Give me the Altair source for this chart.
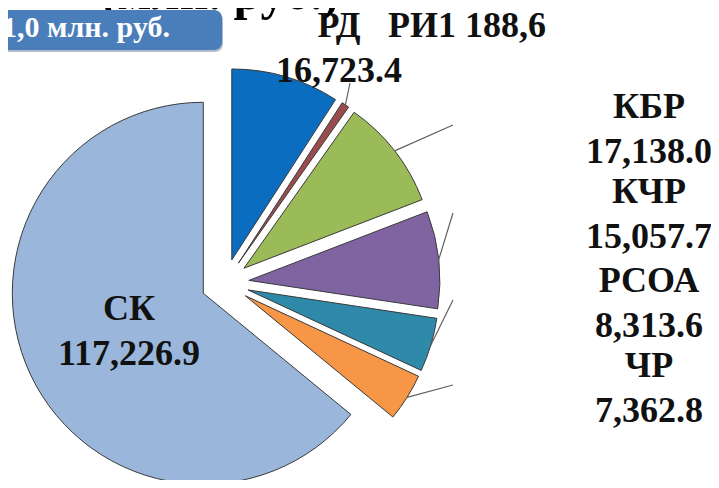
import altair as alt
import pandas as pd

# ---- data ----
categories = ["РД", "РИ", "КБР", "КЧР", "РСОА", "ЧР", "СК"]
values = [16723.4, 1188.6, 17138.0, 15057.7, 8313.6, 7362.8, 117226.9]
colors = ["#0B6DBF", "#9A4B4E", "#9BBB59", "#8064A2", "#2E8AA8", "#F79646", "#9AB7DB"]

title_text = "(млн. руб.)"
total_text = "183 011,0 млн. руб."

SERIF = "Liberation Serif"

# ---- layout (pixels) ----
CX, CY, R, EXP = 217, 275, 191, 24
label_pos = {          # cat: (x, y of first baseline)
    "СК": (121, 312),
    "РД": (331, 29),
    "РИ": (459, 29),
    "КБР": (641, 110),
    "КЧР": (641, 195),
    "РСОА": (641, 284),
    "ЧР": (641, 369),
}
leader_end = {
    "РИ": (342, 75),
    "КБР": (445, 117),
    "КЧР": (445, 205),
    "РСОА": (445, 292),
    "ЧР": (445, 377),
}


def fmt(cat, v):
    if cat == "РИ":
        s = f"{v:,.1f}".replace(",", " ").replace(".", ",")
        return f"{cat}{s}"
    return f"{cat}\n{v:,.1f}"


pie_df = pd.DataFrame({"cat": categories, "value": values,
                       "order": list(range(len(categories)))})
label_df = pd.DataFrame({
    "cat": categories,
    "label": [fmt(c, v) for c, v in zip(categories, values)],
    "tx": [label_pos[c][0] for c in categories],
    "ty": [label_pos[c][1] for c in categories],
})
leader_df = pd.DataFrame({
    "cat": list(leader_end.keys()),
    "ex": [p[0] for p in leader_end.values()],
    "ey": [p[1] for p in leader_end.values()],
})

base = (
    alt.Chart(pie_df)
    .transform_joinaggregate(total="sum(value)")
    .transform_window(cum="sum(value)", sort=[alt.SortField("order")], frame=[None, 0])
    .transform_calculate(
        a0="2*PI*(datum.cum - datum.value)/datum.total",
        a1="2*PI*datum.cum/datum.total",
    )
    .transform_calculate(mid="(datum.a0 + datum.a1)/2")
    .transform_calculate(
        px=f"{CX} + {EXP}*sin(datum.mid)",
        py=f"{CY} - {EXP}*cos(datum.mid)",
        lx=f"{CX} + {R + EXP}*sin(datum.mid)",
        ly=f"{CY} - {R + EXP}*cos(datum.mid)",
    )
)

arcs = base.mark_arc(outerRadius=R, stroke="#3a3a3a", strokeWidth=1).encode(
    theta=alt.Theta("a0:Q", scale=None, stack=None),
    theta2="a1:Q",
    x=alt.X("px:Q", scale=None, axis=None),
    y=alt.Y("py:Q", scale=None, axis=None),
    color=alt.Color("cat:N", scale=alt.Scale(domain=categories, range=colors), legend=None),
)

leaders = (
    base.transform_lookup(lookup="cat", from_=alt.LookupData(leader_df, "cat", ["ex", "ey"]))
    .transform_filter("isValid(datum.ex)")
    .mark_rule(color="#606060", strokeWidth=1.2)
    .encode(
        x=alt.X("lx:Q", scale=None, axis=None),
        y=alt.Y("ly:Q", scale=None, axis=None),
        x2="ex:Q",
        y2="ey:Q",
    )
)

labels = alt.Chart(label_df).mark_text(
    font=SERIF, fontSize=36, fontWeight="bold", align="center",
    baseline="alphabetic", lineBreak="\n", lineHeight=45, color="#111111",
).encode(
    x=alt.X("tx:Q", scale=None, axis=None),
    y=alt.Y("ty:Q", scale=None, axis=None),
    text="label:N",
)

title = alt.Chart(pd.DataFrame({"t": [title_text]})).mark_text(
    font=SERIF, fontSize=50, fontWeight="bold", align="center",
    baseline="alphabetic", color="#000000",
).encode(x=alt.value(212), y=alt.value(1), text="t:N")

box_shadow = alt.Chart(pd.DataFrame({"k": [0]})).mark_rect(
    cornerRadius=8, color="#7f8fa6", opacity=0.6
).encode(x=alt.value(-20), x2=alt.value(215), y=alt.value(4), y2=alt.value(44))

box = alt.Chart(pd.DataFrame({"k": [0]})).mark_rect(
    cornerRadius=8, color="#4A7EBB"
).encode(x=alt.value(-20), x2=alt.value(214), y=alt.value(2), y2=alt.value(42))

box_text = alt.Chart(pd.DataFrame({"t": [total_text]})).mark_text(
    font=SERIF, fontSize=30, fontWeight="bold", align="right",
    baseline="alphabetic", color="#FFFFFF",
).encode(x=alt.value(162), y=alt.value(29), text="t:N")

chart = (
    alt.layer(arcs, leaders, labels, title, box_shadow, box, box_text)
    .properties(width=703, height=472, autosize=alt.AutoSizeParams(type="none"), padding=0,
                background="#FFFFFF")
    .configure_view(stroke=None)
)

chart.save("out.html", embed_options={"renderer": "svg", "actions": False})
